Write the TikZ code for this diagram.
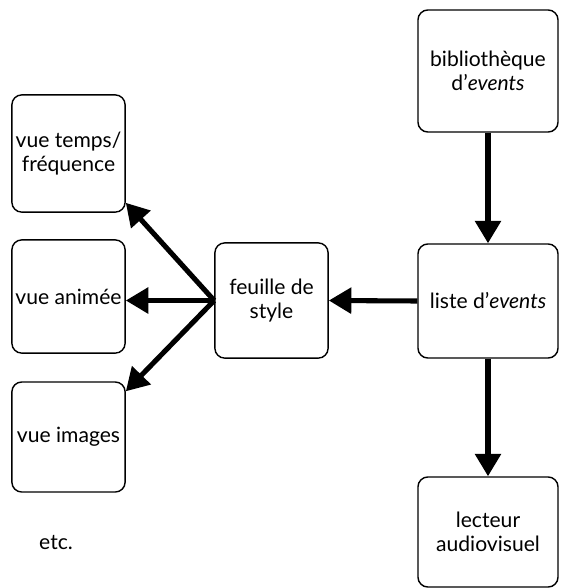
\documentclass[tikz,border=0pt]{standalone}
\usepackage{fontspec}
\setmainfont{Lato}
\usetikzlibrary{arrows.meta}

\begin{document}
\begin{tikzpicture}[x=0.025cm, y=-0.025cm,
		box/.style={draw, line width=1pt, rounded corners=7pt, align=center,
			inner sep=0pt, font=\fontsize{15}{17.5}\selectfont},
		flow/.style={line width=3.6pt, -{Triangle[length=16pt, width=18pt]}}]
			\useasboundingbox (0,0) rectangle (562,588);
				% right column
				\node[box, minimum width=3.5cm, minimum height=3.05cm] (biblio) at (488,71) {bibliothèque\\d'\textit{events}};
				\node[box, minimum width=3.5cm, minimum height=2.85cm] (liste) at (488,301) {liste d'\textit{events}};
				\node[box, minimum width=3.5cm, minimum height=2.75cm] (lecteur) at (488,532) {lecteur\\audiovisuel};
				% middle
				\node[box, minimum width=2.83cm, minimum height=2.88cm] (feuille) at (271.5,300.5) {feuille de\\style};
				% left column
				\node[box, minimum width=2.83cm, minimum height=2.93cm] (temps) at (68.5,153.5) {vue temps/\\fréquence};
				\node[box, minimum width=2.83cm, minimum height=2.83cm] (animee) at (68.5,296.5) {vue animée};
				\node[box, minimum width=2.83cm, minimum height=2.75cm] (images) at (68.5,437) {vue images};
				\node[font=\fontsize{15}{17.5}\selectfont] (etc) at (56,543) {etc.};
				% arrows
				\draw[flow] (biblio) -- (liste);
				\draw[flow] (liste) -- (lecteur);
				\draw[flow] (liste.west) -- (feuille.east);
				\draw[flow] (feuille.west) -- (feuille.west -| animee.east);
				\draw[flow] (feuille.west) -- ([yshift=0.25cm]temps.south east);
				\draw[flow] (feuille.west) -- ([yshift=-0.25cm]images.north east);
			\end{tikzpicture}
\end{document}
